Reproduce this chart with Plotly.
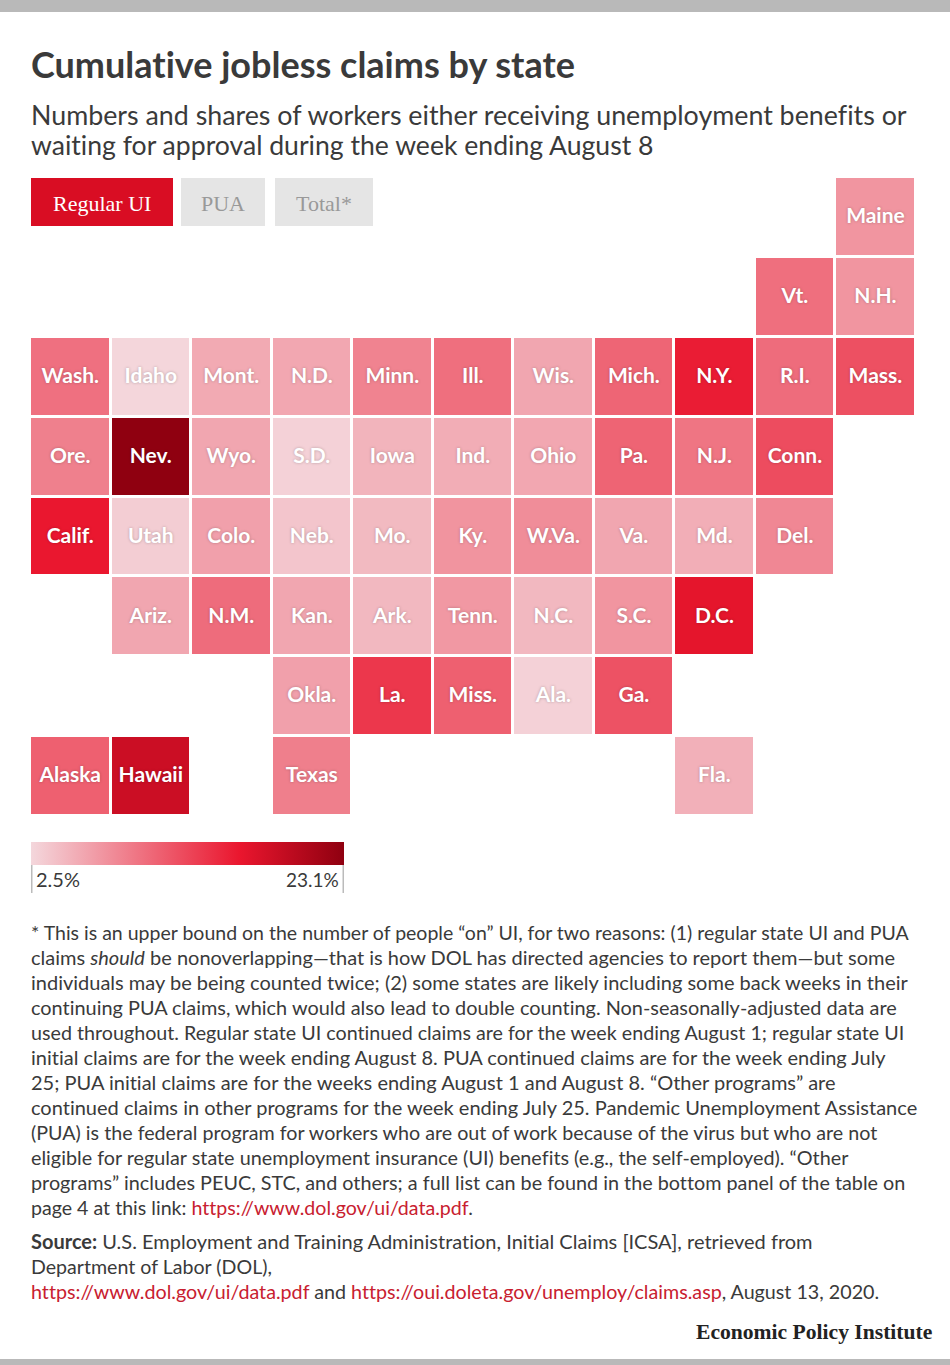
import plotly.graph_objects as go

W, H = 950, 1365

state_names = ["Maine","Vt.","N.H.",
 "Wash.","Idaho","Mont.","N.D.","Minn.","Ill.","Wis.","Mich.","N.Y.","R.I.","Mass.",
 "Ore.","Nev.","Wyo.","S.D.","Iowa","Ind.","Ohio","Pa.","N.J.","Conn.",
 "Calif.","Utah","Colo.","Neb.","Mo.","Ky.","W.Va.","Va.","Md.","Del.",
 "Ariz.","N.M.","Kan.","Ark.","Tenn.","N.C.","S.C.","D.C.",
 "Okla.","La.","Miss.","Ala.","Ga.",
 "Alaska","Hawaii","Texas","Fla."]
state_cols = [10,9,10,
 0,1,2,3,4,5,6,7,8,9,10,
 0,1,2,3,4,5,6,7,8,9,
 0,1,2,3,4,5,6,7,8,9,
 1,2,3,4,5,6,7,8,
 3,4,5,6,7,
 0,1,3,8]
state_rows = [0,1,1]+[2]*11+[3]*10+[4]*10+[5]*8+[6]*5+[7]*4
regular_ui_share = [7.2,9.9,7.2,
 9.8,2.6,5.7,5.9,8.5,9.9,6.0,10.6,15.8,10.1,12.1,
 8.7,23.1,6.0,2.9,5.0,5.5,5.9,10.7,9.5,12.4,
 16.2,3.2,6.4,3.8,4.6,7.3,7.8,6.0,5.4,8.2,
 6.0,10.1,6.0,4.7,7.0,4.7,7.2,16.6,
 6.4,13.9,11.0,2.9,12.0,
 11.0,18.6,8.8,5.3]
scale_min, scale_max = 2.5, 23.1
scale_labels = ["2.5%", "23.1%"]
buttons = ["Regular UI", "PUA", "Total*"]

TITLE = "Cumulative jobless claims by state"
SUBTITLE = ["Numbers and shares of workers either receiving unemployment benefits or",
            "waiting for approval during the week ending August 8"]
RED = "#c8202f"
def link(s): return f'<span style="color:{RED}">{s}</span>'
NOTES = [
 "* This is an upper bound on the number of people “on” UI, for two reasons: (1) regular state UI and PUA",
 "claims <i>should</i> be nonoverlapping—that is how DOL has directed agencies to report them—but some",
 "individuals may be being counted twice; (2) some states are likely including some back weeks in their",
 "continuing PUA claims, which would also lead to double counting. Non-seasonally-adjusted data are",
 "used throughout. Regular state UI continued claims are for the week ending August 1; regular state UI",
 "initial claims are for the week ending August 8. PUA continued claims are for the week ending July",
 "25; PUA initial claims are for the weeks ending August 1 and August 8. “Other programs” are",
 "continued claims in other programs for the week ending July 25. Pandemic Unemployment Assistance",
 "(PUA) is the federal program for workers who are out of work because of the virus but who are not",
 "eligible for regular state unemployment insurance (UI) benefits (e.g., the self-employed). “Other",
 "programs” includes PEUC, STC, and others; a full list can be found in the bottom panel of the table on",
 "page 4 at this link: " + link("https://www.dol.gov/ui/data.pdf") + ".",
]
NOTE_SIZES = [19.5, 20, 20, 19.9, 19.7, 20, 20, 20, 19.7, 19.8, 19.8, 19.6]
SOURCE = [
 "<b>Source:</b> U.S. Employment and Training Administration, Initial Claims [ICSA], retrieved from",
 "Department of Labor (DOL),",
 link("https://www.dol.gov/ui/data.pdf") + " and " + link("https://oui.doleta.gov/unemploy/claims.asp") + ", August 13, 2020.",
]
SOURCE_SIZES = [20, 19.6, 19.7]

SANS = "Lato"
SERIF = "Liberation Serif"
INK = "#3a3a3a"
colorscale = [[0, "#f4d7dc"], [0.667, "#ea162e"], [1, "#8f0010"]]

def px(x): return x / W
def py(y): return 1 - y / H

annotations = []
def label(x, y, text, size, color=INK, family=SANS, anchor="left"):
    annotations.append(dict(x=px(x), y=py(y), xref="paper", yref="paper", text=text,
        showarrow=False, xanchor=anchor, yanchor="middle", align=anchor,
        borderpad=0, font=dict(family=family, size=size, color=color)))

label(30, 64, f"<b>{TITLE}</b>", 36)
label(30, 114.5, SUBTITLE[0], 26.8)
label(30, 145.5, SUBTITLE[1], 26.6)

for i, line in enumerate(NOTES):
    label(30, 932 + 25 * i, line, NOTE_SIZES[i])
for i, line in enumerate(SOURCE):
    label(30, 1241 + 25 * i, line, SOURCE_SIZES[i])
label(934, 1332, "<b>Economic Policy Institute</b>", 21.6, "#222222", SERIF, "right")

shapes = []
def rect(x0, y0, x1, y1, color):
    shapes.append(dict(type="rect", xref="paper", yref="paper", x0=px(x0), x1=px(x1),
        y0=py(y0), y1=py(y1), fillcolor=color, line_width=0, layer="below"))

rect(0, 0, W, 12, "#b9b9b9")
rect(0, 1359, W, H, "#b9b9b9")
rect(31, 178, 173, 226, "#d90d23")
rect(181, 178, 265, 226, "#e5e5e5")
rect(275, 178, 373, 226, "#e5e5e5")
label(101.5, 203, buttons[0], 22, "#ffffff", SERIF, "center")
label(223, 203, buttons[1], 22, "#999999", SERIF, "center")
label(324, 203, buttons[2], 22, "#999999", SERIF, "center")

rect(31, 865, 32.5, 893, "#bbbbbb")
rect(342.5, 865, 344, 893, "#bbbbbb")
label(35, 879, scale_labels[0], 20)
label(340, 879, scale_labels[1], 19, anchor="right")

label_nudge = 0.012  # tile labels sit a hair below the row centre in text-anchor terms
fig = go.Figure()
fig.add_trace(go.Heatmap(
    x=state_cols, y=state_rows, z=regular_ui_share, text=state_names,
    colorscale=colorscale, zmin=scale_min, zmax=scale_max,
    xgap=3, ygap=3, hoverongaps=False,
    colorbar=dict(orientation="h", x=px(31), xanchor="left", y=py(842), yanchor="top",
                  lenmode="pixels", len=313, thicknessmode="pixels", thickness=23,
                  xpad=0, ypad=0, outlinewidth=0, borderwidth=0,
                  showticklabels=False, ticks=""),
))
fig.add_trace(go.Scatter(
    x=state_cols, y=[r + label_nudge for r in state_rows], text=state_names,
    mode="text", textposition="middle center", hoverinfo="skip",
    textfont=dict(family=SANS, size=21, color="#ffffff", weight=700,
                  shadow="0px 0px 3px rgba(0,0,0,0.25)"),
))
fig.update_layout(
    width=W, height=H, margin=dict(l=0, r=0, t=0, b=0, autoexpand=False),
    paper_bgcolor="#ffffff", plot_bgcolor="rgba(0,0,0,0)", showlegend=False,
    xaxis=dict(domain=[px(30), px(915.7)], range=[-0.5, 10.5], visible=False, fixedrange=True),
    yaxis=dict(domain=[py(816), py(177)], range=[7.5, -0.5], visible=False, fixedrange=True),
    shapes=shapes, annotations=annotations,
)
page_css = ("document.body.style.margin='0';"
            "var s=document.createElement('style');"
            "s.textContent='text,tspan{font-variant-ligatures:none !important}';"
            "document.head.appendChild(s);")
fig.write_html("out.html", config=dict(displayModeBar=False), post_script=page_css)
